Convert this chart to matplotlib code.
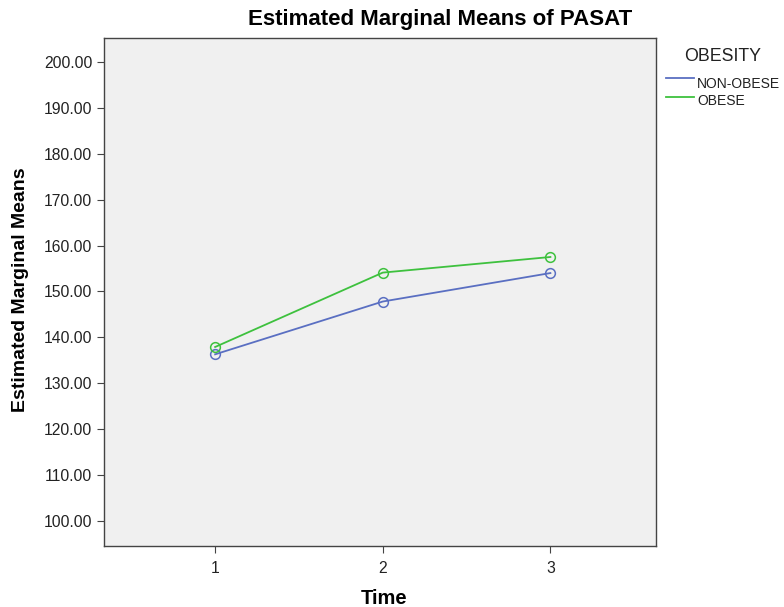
import matplotlib
matplotlib.use("Agg")
import matplotlib.pyplot as plt
from matplotlib.lines import Line2D

time_points = [1, 2, 3]
time_labels = ["1", "2", "3"]
non_obese = [136.3, 147.8, 154.0]
obese = [137.9, 154.1, 157.5]
series_names = ["NON-OBESE", "OBESE"]
y_ticks = [100, 110, 120, 130, 140, 150, 160, 170, 180, 190, 200]

plt.rcParams['font.family'] = ['Liberation Sans', 'DejaVu Sans']

W, H = 784, 607
fig = plt.figure(figsize=(W/100, H/100), dpi=100)
ax = fig.add_axes([104/W, 1-546/H, (656-104)/W, (546-38)/H])
ax.set_facecolor('#f0f0f0')

colors = ['#5a6fc2', '#3ec13e']
for vals, name, c in zip([non_obese, obese], series_names, colors):
    ax.plot(time_points, vals, color=c, lw=1.3, marker='o', markersize=7,
            markerfacecolor='none', markeredgecolor=c, markeredgewidth=1.1, label=name)

ax.set_xlim(0.337, 3.63)
ax.set_ylim(94.55, 205.2)
ax.set_xticks(time_points)
ax.set_xticklabels(time_labels)
ax.set_yticks(y_ticks)
ax.set_yticklabels([f"{v:.2f}" for v in y_ticks])
ax.tick_params(axis='both', direction='out', length=5, width=0.8, color='#444444',
               labelsize=11.3, labelcolor='#222222')
ax.tick_params(axis='x', pad=6)
for s in ax.spines.values():
    s.set_color('#444444')
    s.set_linewidth(1.0)

def px(x, y):
    return x / W, 1 - y / H

fig.text(*px(440, 25), "Estimated Marginal Means of PASAT", fontsize=16, fontweight='bold',
         ha='center', va='baseline')
fig.text(*px(384, 604), "Time", fontsize=14.5, fontweight='bold', ha='center', va='baseline')
fig.text(*px(21, 290), "Estimated Marginal Means", fontsize=14, fontweight='bold',
         ha='center', va='center', rotation=90)

# legend
fig.text(*px(684, 61), "OBESITY", fontsize=12.8, ha='left', va='baseline', color='#222222')
legend_y = [(77.7, 87.5), (96.7, 104.5)]
for name, c, (ly, ty) in zip(series_names, colors, legend_y):
    fig.add_artist(Line2D([666/W, 694/W], [1-ly/H, 1-ly/H], color=c, lw=1.3,
                          transform=fig.transFigure))
    fig.text(*px(697, ty), name, fontsize=10, ha='left', va='baseline', color='#222222')

fig.savefig("out.png", dpi=100)
